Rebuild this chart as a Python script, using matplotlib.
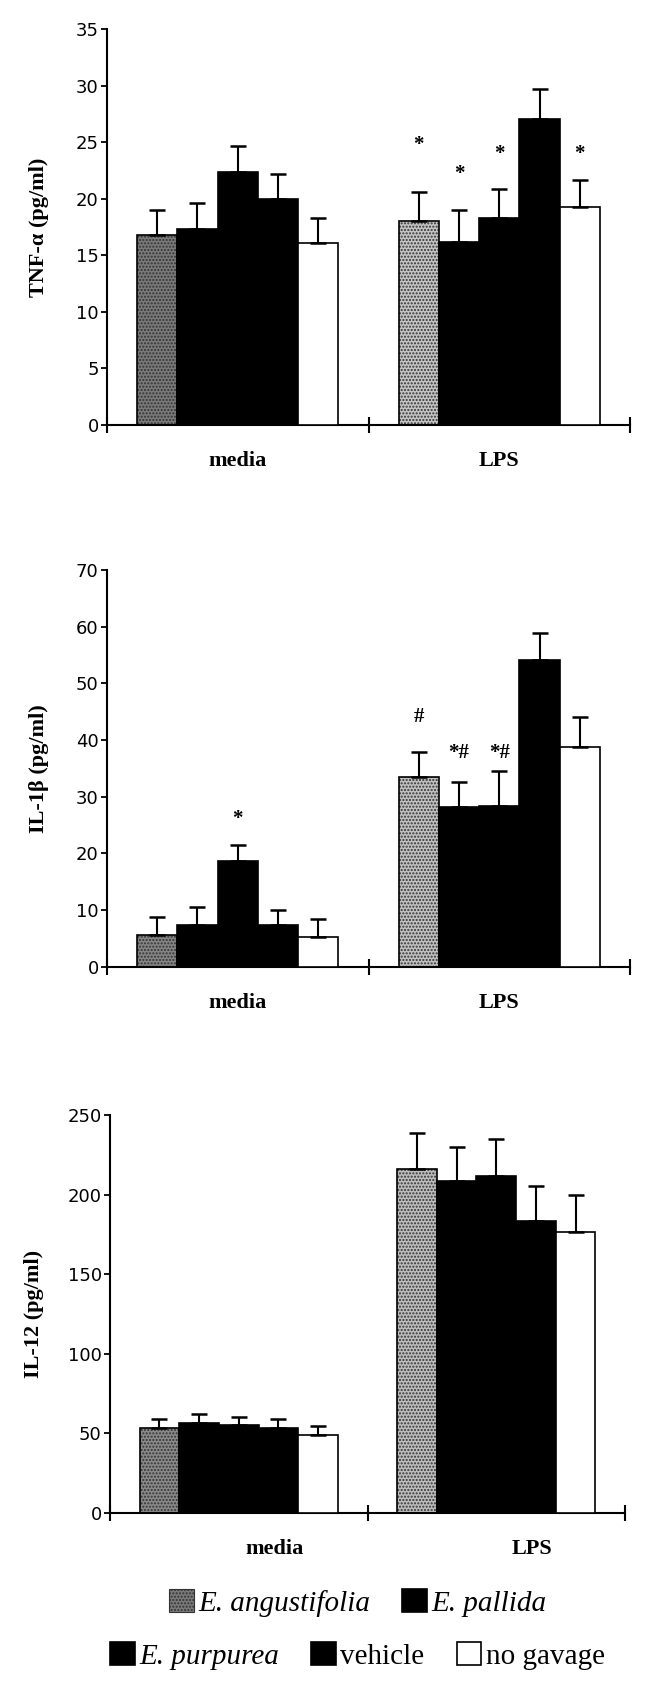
import matplotlib
matplotlib.use('Agg')
import matplotlib.pyplot as plt
from matplotlib.patches import Patch
import numpy as np

# ---------------- data ----------------
categories = ['media', 'LPS']
series = ['E. angustifolia', 'E. pallida', 'E. purpurea', 'vehicle', 'no gavage']

tnf_media_mean = [16.8, 17.3, 22.4, 20.0, 16.1]
tnf_media_sem = [2.2, 2.3, 2.3, 2.2, 2.2]
tnf_lps_mean = [18.0, 16.2, 18.3, 27.1, 19.3]
tnf_lps_sem = [2.6, 2.8, 2.6, 2.6, 2.4]

il1b_media_mean = [5.6, 7.3, 18.7, 7.3, 5.2]
il1b_media_sem = [3.1, 3.2, 2.7, 2.7, 3.2]
il1b_lps_mean = [33.5, 28.2, 28.4, 54.1, 38.8]
il1b_lps_sem = [4.4, 4.4, 6.2, 4.7, 5.3]

il12_media_mean = [53.7, 56.8, 55.1, 53.7, 49.1]
il12_media_sem = [5.2, 5.2, 5.4, 5.6, 5.6]
il12_lps_mean = [215.9, 208.8, 211.7, 183.7, 176.6]
il12_lps_sem = [22.9, 20.8, 23.0, 21.9, 23.0]

# annotations: (category index, series index, text, y value)
tnf_notes = [(1, 0, '*', 24.8), (1, 1, '*', 22.2), (1, 2, '*', 24.0), (1, 4, '*', 24.0)]
il1b_notes = [(0, 2, '*', 26.1), (1, 0, '#', 44.1), (1, 1, '*#', 37.7), (1, 2, '*#', 37.7)]
il12_notes = []

ylabels = ['TNF-\u03b1 (pg/ml)', 'IL-1\u03b2 (pg/ml)', 'IL-12 (pg/ml)']
yticks_list = [np.arange(0, 36, 5), np.arange(0, 71, 10), np.arange(0, 251, 50)]

# ---------------- style ----------------
SERIF = ['Liberation Serif', 'DejaVu Serif']
SANS = ['DejaVu Sans']
series_colors = [None, 'black', 'black', 'black', 'white']
BAR_W = 0.154

fig = plt.figure(figsize=(6.5, 16.88), dpi=100)

axes_rects = [
    [107 / 650, (1688 - 425) / 1688, 523 / 650, 395.7 / 1688],
    [107 / 650, (1688 - 966.7) / 1688, 523 / 650, 396.7 / 1688],
    [110 / 650, (1688 - 1513) / 1688, 515 / 650, 398 / 1688],
]
gray_face = [['#7a7a7a', '#c4c4c4'], ['#858585', '#c0c0c0'], ['#8a8a8a', '#bdbdbd']]
ylabel_x = [-0.111, -0.111, -0.128]
label_shift = [0.0, 0.0, 0.14]

panels = [
    (tnf_media_mean, tnf_media_sem, tnf_lps_mean, tnf_lps_sem, tnf_notes),
    (il1b_media_mean, il1b_media_sem, il1b_lps_mean, il1b_lps_sem, il1b_notes),
    (il12_media_mean, il12_media_sem, il12_lps_mean, il12_lps_sem, il12_notes),
]

for pi, (mm, ms, lm, ls, notes) in enumerate(panels):
    ax = fig.add_axes(axes_rects[pi])
    data = [(mm, ms), (lm, ls)]
    for ci, (means, sems) in enumerate(data):
        center = ci + 0.5
        xs = center + (np.arange(len(series)) - 2) * BAR_W
        for si in range(len(series)):
            if si == 0:
                ax.bar(xs[si], means[si], BAR_W, color=gray_face[pi][ci], hatch='.....',
                       edgecolor='#333333', linewidth=0, zorder=2)
                ax.bar(xs[si], means[si], BAR_W, fill=False, edgecolor='black',
                       linewidth=1.2, zorder=3)
            else:
                ax.bar(xs[si], means[si], BAR_W, color=series_colors[si],
                       edgecolor='black', linewidth=1.2, zorder=3)
        ax.errorbar(xs, means, yerr=[np.zeros(len(sems)), sems], fmt='none',
                    ecolor='black', elinewidth=1.5, capsize=6, capthick=1.8, zorder=4)
        ax.text(center + label_shift[pi], -0.091, categories[ci],
                transform=ax.get_xaxis_transform(), ha='center', va='center',
                fontsize=16, fontweight='bold', family=SERIF)
    for (ci, si, txt, yv) in notes:
        x = ci + 0.5 + (si - 2) * BAR_W
        ax.text(x, yv, txt, ha='center', va='center', fontsize=15,
                fontweight='bold', family=SERIF, zorder=5)

    yt = yticks_list[pi]
    ax.set_ylim(0, yt[-1])
    ax.set_xlim(0, 2)
    ax.set_yticks(yt)
    ax.set_yticklabels([str(v) for v in yt], family=SANS, fontsize=13)
    ax.set_xticks([0, 1, 2])
    ax.tick_params(axis='x', direction='inout', length=12, width=1.5, labelbottom=False)
    ax.tick_params(axis='y', direction='out', length=4, width=1.3, pad=2)
    for s in ['top', 'right']:
        ax.spines[s].set_visible(False)
    for s in ['left', 'bottom']:
        ax.spines[s].set_linewidth(1.5)
    ax.set_ylabel(ylabels[pi], fontsize=16, fontweight='bold', family=SERIF)
    ax.yaxis.set_label_coords(ylabel_x[pi], 0.5)
    ax.set_facecolor('none')

# ---------------- legend ----------------
def swatch(si):
    if si == 0:
        return Patch(facecolor='#7a7a7a', hatch='.....', edgecolor='#333333', linewidth=0.8)
    return Patch(facecolor=series_colors[si], edgecolor='black', linewidth=1.2)

legend_rows = [[0, 1], [2, 3, 4]]
legend_y = [1 - 1603 / 1688, 1 - 1656 / 1688]
for row, yv in zip(legend_rows, legend_y):
    leg = fig.legend([swatch(si) for si in row], [series[si] for si in row],
                     loc='center', bbox_to_anchor=(0.55, yv), ncol=len(row),
                     frameon=False, handlelength=0.85, handleheight=0.85,
                     handletextpad=0.15, columnspacing=1.1, borderpad=0,
                     prop={'family': SERIF, 'size': 21})
    for t in leg.get_texts():
        if t.get_text().startswith('E.'):
            t.set_fontstyle('italic')

fig.savefig('out.png', dpi=100, facecolor='white')
